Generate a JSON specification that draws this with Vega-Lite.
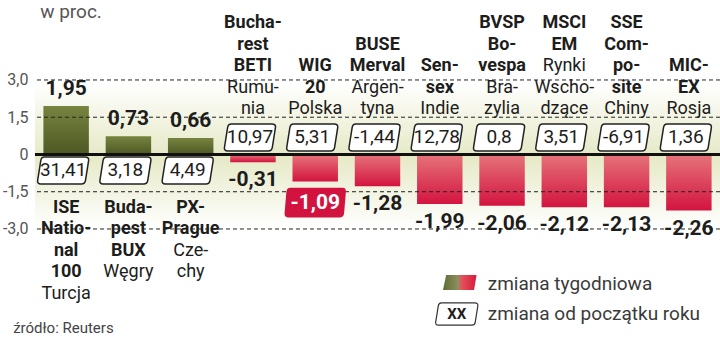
{
  "$schema": "https://vega.github.io/schema/vega-lite/v6.json",
  "width": 685,
  "height": 339,
  "autosize": "none",
  "padding": {"left": 35, "top": 0, "right": 0, "bottom": 0},
  "background": "white",
  "config": {
    "view": {"stroke": null},
    "locale": {"number": {"decimal": ",", "thousands": " ", "grouping": [3], "currency": ["", " zł"], "minus": "-"}}
  },
  "datasets": {
    "indeksy": [
      {"indeks": "ISE National 100", "nazwa": "ISE|Natio-|nal|100", "kraj": "Turcja", "tygodniowa": 1.95, "od_poczatku_roku": 31.41},
      {"indeks": "Budapest BUX", "nazwa": "Buda-|pest|BUX", "kraj": "Węgry", "tygodniowa": 0.73, "od_poczatku_roku": 3.18},
      {"indeks": "PX-Prague", "nazwa": "PX-|Prague", "kraj": "Cze-|chy", "tygodniowa": 0.66, "od_poczatku_roku": 4.49},
      {"indeks": "Bucharest BETI", "nazwa": "Bucha-|rest|BETI", "kraj": "Rumu-|nia", "tygodniowa": -0.31, "od_poczatku_roku": 10.97},
      {"indeks": "WIG 20", "nazwa": "WIG|20", "kraj": "Polska", "tygodniowa": -1.09, "od_poczatku_roku": 5.31},
      {"indeks": "BUSE Merval", "nazwa": "BUSE|Merval", "kraj": "Argen-|tyna", "tygodniowa": -1.28, "od_poczatku_roku": -1.44},
      {"indeks": "Sensex", "nazwa": "Sen-|sex", "kraj": "Indie", "tygodniowa": -1.99, "od_poczatku_roku": 12.78},
      {"indeks": "BVSP Bovespa", "nazwa": "BVSP|Bo-|vespa", "kraj": "Bra-|zylia", "tygodniowa": -2.06, "od_poczatku_roku": 0.8},
      {"indeks": "MSCI EM", "nazwa": "MSCI|EM", "kraj": "Rynki|Wscho-|dzące", "tygodniowa": -2.12, "od_poczatku_roku": 3.51},
      {"indeks": "SSE Composite", "nazwa": "SSE|Com-|po-|site", "kraj": "Chiny", "tygodniowa": -2.13, "od_poczatku_roku": -6.91},
      {"indeks": "MICEX", "nazwa": "MIC-|EX", "kraj": "Rosja", "tygodniowa": -2.26, "od_poczatku_roku": 1.36}
    ],
    "poziomy": [{"poziom": 3}, {"poziom": 1.5}, {"poziom": -1.5}, {"poziom": -3}]
  },
  "data": {"name": "indeksy"},
  "transform": [
    {"calculate": "split(datum.nazwa + '|' + datum.kraj, '|')", "as": "linie"},
    {"calculate": "length(split(datum.nazwa, '|'))", "as": "n_bold"},
    {"calculate": "length(datum.linie)", "as": "n_linii"}
  ],
  "layer": [
    {
      "data": {"values": [{}]},
      "mark": {"type": "rect", "fill": {"gradient": "linear", "x1": 0, "y1": 0, "x2": 0, "y2": 1, "stops": [{"offset": 0, "color": "#ffffff"}, {"offset": 0.5, "color": "#e6e9c6"}, {"offset": 1, "color": "#ffffff"}]}},
      "encoding": {
        "y": {"datum": 2.9, "type": "quantitative", "scale": {"domain": [-7.43, 6.22], "nice": false, "zero": false},
          "axis": {"title": null, "values": [-3, -1.5, 0, 1.5, 3], "format": ".1f", "labelExpr": "datum.value == 0 ? '0' : datum.label", "domain": false, "ticks": false, "tickSize": 0, "grid": false, "labelPadding": 7, "labelFont": "Roboto", "labelFontSize": 16, "labelColor": "#555555", "labelBaseline": "middle"}},
        "y2": {"datum": -3.0}
      }
    },
    {
      "transform": [{"filter": "datum.tygodniowa > 0"}],
      "mark": {"type": "bar", "fill": {"gradient": "linear", "x1": 0, "y1": 0, "x2": 0, "y2": 1, "stops": [{"offset": 0, "color": "#77843f"}, {"offset": 1, "color": "#4d5824"}]}},
      "encoding": {
        "x": {"field": "indeks", "type": "nominal", "sort": null, "scale": {"domain": ["ISE National 100", "Budapest BUX", "PX-Prague", "Bucharest BETI", "WIG 20", "BUSE Merval", "Sensex", "BVSP Bovespa", "MSCI EM", "SSE Composite", "MICEX"], "paddingInner": 0.27, "paddingOuter": 0.135}, "axis": null},
        "y": {"field": "tygodniowa", "type": "quantitative", "title": null, "scale": {"domain": [-7.43, 6.22], "nice": false, "zero": false}},
        "y2": {"datum": 0}
      }
    },
    {
      "transform": [{"filter": "datum.tygodniowa < 0"}],
      "mark": {"type": "bar", "fill": {"gradient": "linear", "x1": 0, "y1": 0, "x2": 0, "y2": 1, "stops": [{"offset": 0, "color": "#e5747b"}, {"offset": 1, "color": "#d3143f"}]}},
      "encoding": {
        "x": {"field": "indeks", "type": "nominal", "sort": null, "axis": null},
        "y": {"field": "tygodniowa", "type": "quantitative", "title": null},
        "y2": {"datum": 0}
      }
    },
    {
      "data": {"name": "poziomy"},
      "mark": {"type": "rule", "stroke": "#222222", "strokeWidth": 1, "strokeDash": [4, 3]},
      "encoding": {"y": {"field": "poziom", "type": "quantitative", "title": null}}
    },
    {
      "data": {"values": [{}]},
      "mark": {"type": "rule", "stroke": "#111111", "strokeWidth": 3},
      "encoding": {"y": {"datum": 0}}
    },
    {
      "transform": [{"filter": "datum.tygodniowa < 0"}],
      "mark": {"type": "point", "shape": "M -0.72,-0.52 L 0.84,-0.52 Q 1,-0.52 0.98,-0.38 L 0.86,0.38 Q 0.84,0.52 0.7,0.52 L -0.86,0.52 Q -1,0.52 -0.98,0.38 L -0.86,-0.38 Q -0.84,-0.52 -0.72,-0.52 Z", "size": 2704, "filled": true, "fill": "white", "stroke": "#222222", "strokeWidth": 1.5, "opacity": 1, "yOffset": -17, "xOffset": -3},
      "encoding": {"x": {"field": "indeks", "type": "nominal", "sort": null, "axis": null}, "y": {"datum": 0}}
    },
    {
      "transform": [{"filter": "datum.tygodniowa > 0"}],
      "mark": {"type": "point", "shape": "M -0.72,-0.52 L 0.84,-0.52 Q 1,-0.52 0.98,-0.38 L 0.86,0.38 Q 0.84,0.52 0.7,0.52 L -0.86,0.52 Q -1,0.52 -0.98,0.38 L -0.86,-0.38 Q -0.84,-0.52 -0.72,-0.52 Z", "size": 2704, "filled": true, "fill": "white", "stroke": "#222222", "strokeWidth": 1.5, "opacity": 1, "yOffset": 16, "xOffset": -3},
      "encoding": {"x": {"field": "indeks", "type": "nominal", "sort": null, "axis": null}, "y": {"datum": 0}}
    },
    {
      "transform": [{"filter": "datum.tygodniowa < 0"}],
      "mark": {"type": "text", "baseline": "middle", "dy": -17, "dx": -3, "font": "Roboto", "fontSize": 19, "color": "#1d1d1b"},
      "encoding": {"x": {"field": "indeks", "type": "nominal", "sort": null, "axis": null}, "y": {"datum": 0}, "text": {"field": "od_poczatku_roku", "type": "quantitative", "format": ".2~f"}}
    },
    {
      "transform": [{"filter": "datum.tygodniowa > 0"}],
      "mark": {"type": "text", "baseline": "middle", "dy": 16, "dx": -3, "font": "Roboto", "fontSize": 19, "color": "#1d1d1b"},
      "encoding": {"x": {"field": "indeks", "type": "nominal", "sort": null, "axis": null}, "y": {"datum": 0}, "text": {"field": "od_poczatku_roku", "type": "quantitative", "format": ".2~f"}}
    },
    {
      "transform": [{"filter": "datum.tygodniowa > 0"}],
      "mark": {"type": "text", "baseline": "bottom", "dy": -7, "font": "Roboto", "fontSize": 21, "fontWeight": "bold", "color": "#1d1d1b"},
      "encoding": {"x": {"field": "indeks", "type": "nominal", "sort": null, "axis": null}, "y": {"field": "tygodniowa", "type": "quantitative", "title": null}, "text": {"field": "tygodniowa", "type": "quantitative", "format": ".2f"}}
    },
    {
      "transform": [{"filter": "datum.tygodniowa < 0 && datum.kraj != 'Polska'"}],
      "mark": {"type": "text", "baseline": "top", "dy": 7, "font": "Roboto", "fontSize": 21, "fontWeight": "bold", "color": "#1d1d1b"},
      "encoding": {"x": {"field": "indeks", "type": "nominal", "sort": null, "axis": null}, "y": {"field": "tygodniowa", "type": "quantitative", "title": null}, "text": {"field": "tygodniowa", "type": "quantitative", "format": ".2f"}}
    },
    {
      "transform": [{"filter": "datum.kraj == 'Polska'"}],
      "mark": {"type": "point", "shape": "M -0.8,-0.48 L 0.88,-0.48 Q 1,-0.48 0.988,-0.34 L 0.932,0.34 Q 0.92,0.48 0.8,0.48 L -0.88,0.48 Q -1,0.48 -0.988,0.34 L -0.932,-0.34 Q -0.92,-0.48 -0.8,-0.48 Z", "size": 3844, "filled": true, "fill": "#d3133f", "strokeWidth": 0, "opacity": 1, "yOffset": 21},
      "encoding": {"x": {"field": "indeks", "type": "nominal", "sort": null, "axis": null}, "y": {"field": "tygodniowa", "type": "quantitative", "title": null}}
    },
    {
      "transform": [{"filter": "datum.kraj == 'Polska'"}],
      "mark": {"type": "text", "baseline": "middle", "dy": 21, "font": "Roboto", "fontSize": 21, "fontWeight": "bold", "color": "#ffffff"},
      "encoding": {"x": {"field": "indeks", "type": "nominal", "sort": null, "axis": null}, "y": {"field": "tygodniowa", "type": "quantitative", "title": null}, "text": {"field": "tygodniowa", "type": "quantitative", "format": ".2f"}}
    },
    {
      "transform": [
        {"filter": "datum.tygodniowa < 0"},
        {"flatten": ["linie"], "as": ["linia"]},
        {"window": [{"op": "row_number", "as": "nr"}], "groupby": ["indeks"]},
        {"calculate": "datum.nr - 1 + 5 - datum.n_linii", "as": "wiersz"},
        {"filter": "datum.nr <= datum.n_bold"}
      ],
      "mark": {"type": "text", "baseline": "top", "font": "Roboto", "fontSize": 18, "fontWeight": "bold", "color": "#1d1d1b"},
      "encoding": {"x": {"field": "indeks", "type": "nominal", "sort": null, "axis": null}, "y": {"datum": 5.65}, "yOffset": {"field": "wiersz", "type": "quantitative", "scale": {"domain": [0, 4], "range": [0, 86]}}, "text": {"field": "linia", "type": "nominal"}}
    },
    {
      "transform": [
        {"filter": "datum.tygodniowa < 0"},
        {"flatten": ["linie"], "as": ["linia"]},
        {"window": [{"op": "row_number", "as": "nr"}], "groupby": ["indeks"]},
        {"calculate": "datum.nr - 1 + 5 - datum.n_linii", "as": "wiersz"},
        {"filter": "datum.nr > datum.n_bold"}
      ],
      "mark": {"type": "text", "baseline": "top", "font": "Roboto", "fontSize": 18, "color": "#1d1d1b"},
      "encoding": {"x": {"field": "indeks", "type": "nominal", "sort": null, "axis": null}, "y": {"datum": 5.65}, "yOffset": {"field": "wiersz", "type": "quantitative", "scale": {"domain": [0, 4], "range": [0, 86]}}, "text": {"field": "linia", "type": "nominal"}}
    },
    {
      "transform": [
        {"filter": "datum.tygodniowa > 0"},
        {"flatten": ["linie"], "as": ["linia"]},
        {"window": [{"op": "row_number", "as": "nr"}], "groupby": ["indeks"]},
        {"calculate": "datum.nr - 1", "as": "wiersz"},
        {"filter": "datum.nr <= datum.n_bold"}
      ],
      "mark": {"type": "text", "baseline": "top", "font": "Roboto", "fontSize": 18, "fontWeight": "bold", "color": "#1d1d1b"},
      "encoding": {"x": {"field": "indeks", "type": "nominal", "sort": null, "axis": null}, "y": {"datum": -1.78}, "yOffset": {"field": "wiersz", "type": "quantitative", "scale": {"domain": [0, 4], "range": [0, 86]}}, "text": {"field": "linia", "type": "nominal"}}
    },
    {
      "transform": [
        {"filter": "datum.tygodniowa > 0"},
        {"flatten": ["linie"], "as": ["linia"]},
        {"window": [{"op": "row_number", "as": "nr"}], "groupby": ["indeks"]},
        {"calculate": "datum.nr - 1", "as": "wiersz"},
        {"filter": "datum.nr > datum.n_bold"}
      ],
      "mark": {"type": "text", "baseline": "top", "font": "Roboto", "fontSize": 18, "color": "#1d1d1b"},
      "encoding": {"x": {"field": "indeks", "type": "nominal", "sort": null, "axis": null}, "y": {"datum": -1.78}, "yOffset": {"field": "wiersz", "type": "quantitative", "scale": {"domain": [0, 4], "range": [0, 86]}}, "text": {"field": "linia", "type": "nominal"}}
    },
    {
      "transform": [{"filter": "datum.indeks == 'ISE National 100'"}],
      "mark": {"type": "text", "align": "left", "baseline": "alphabetic", "dx": -26, "font": "Roboto", "fontSize": 19, "color": "#555555"},
      "encoding": {"x": {"field": "indeks", "type": "nominal", "sort": null, "axis": null}, "y": {"datum": 5.495}, "text": {"value": "w proc."}}
    },
    {
      "transform": [{"filter": "datum.indeks == 'ISE National 100'"}],
      "mark": {"type": "text", "align": "left", "baseline": "middle", "dx": -53, "font": "Roboto", "fontSize": 15, "color": "#444444"},
      "encoding": {"x": {"field": "indeks", "type": "nominal", "sort": null, "axis": null}, "y": {"datum": -6.99}, "text": {"value": "źródło: Reuters"}}
    },
    {
      "transform": [{"filter": "datum.indeks == 'Sensex'"}],
      "mark": {"type": "point", "shape": "M -0.8,-0.44 L 0.96,-0.44 Q 1,-0.44 0.98,-0.4 L 0.84,0.44 L -0.96,0.44 Q -1,0.44 -0.98,0.4 Z", "size": 1156, "filled": true, "strokeWidth": 0, "opacity": 1, "xOffset": 20,
        "fill": {"gradient": "linear", "x1": 0, "y1": 0, "x2": 1, "y2": 0, "stops": [{"offset": 0, "color": "#5d6e32"}, {"offset": 0.45, "color": "#8e8f60"}, {"offset": 0.55, "color": "#e4525c"}, {"offset": 1, "color": "#d61a3d"}]}},
      "encoding": {"x": {"field": "indeks", "type": "nominal", "sort": null, "axis": null}, "y": {"datum": -5.155}}
    },
    {
      "transform": [{"filter": "datum.indeks == 'Sensex'"}],
      "mark": {"type": "point", "shape": "M -0.72,-0.52 L 0.84,-0.52 Q 1,-0.52 0.98,-0.38 L 0.86,0.38 Q 0.84,0.52 0.7,0.52 L -0.86,0.52 Q -1,0.52 -0.98,0.38 L -0.86,-0.38 Q -0.84,-0.52 -0.72,-0.52 Z", "size": 1849, "filled": true, "fill": "white", "stroke": "#333333", "strokeWidth": 1.2, "opacity": 1, "xOffset": 17},
      "encoding": {"x": {"field": "indeks", "type": "nominal", "sort": null, "axis": null}, "y": {"datum": -6.423}}
    },
    {
      "transform": [{"filter": "datum.indeks == 'Sensex'"}],
      "mark": {"type": "text", "baseline": "middle", "dx": 17, "font": "Roboto", "fontSize": 15, "fontWeight": "bold", "color": "#1d1d1b"},
      "encoding": {"x": {"field": "indeks", "type": "nominal", "sort": null, "axis": null}, "y": {"datum": -6.423}, "text": {"value": "XX"}}
    },
    {
      "transform": [{"filter": "datum.indeks == 'Sensex'"}],
      "mark": {"type": "text", "align": "left", "baseline": "alphabetic", "dx": 48, "font": "Roboto", "fontSize": 19, "color": "#3a3a3a"},
      "encoding": {"x": {"field": "indeks", "type": "nominal", "sort": null, "axis": null}, "y": {"datum": -5.457}, "text": {"value": "zmiana tygodniowa"}}
    },
    {
      "transform": [{"filter": "datum.indeks == 'Sensex'"}],
      "mark": {"type": "text", "align": "left", "baseline": "alphabetic", "dx": 48, "font": "Roboto", "fontSize": 19, "color": "#3a3a3a"},
      "encoding": {"x": {"field": "indeks", "type": "nominal", "sort": null, "axis": null}, "y": {"datum": -6.665}, "text": {"value": "zmiana od początku roku"}}
    }
  ]
}
